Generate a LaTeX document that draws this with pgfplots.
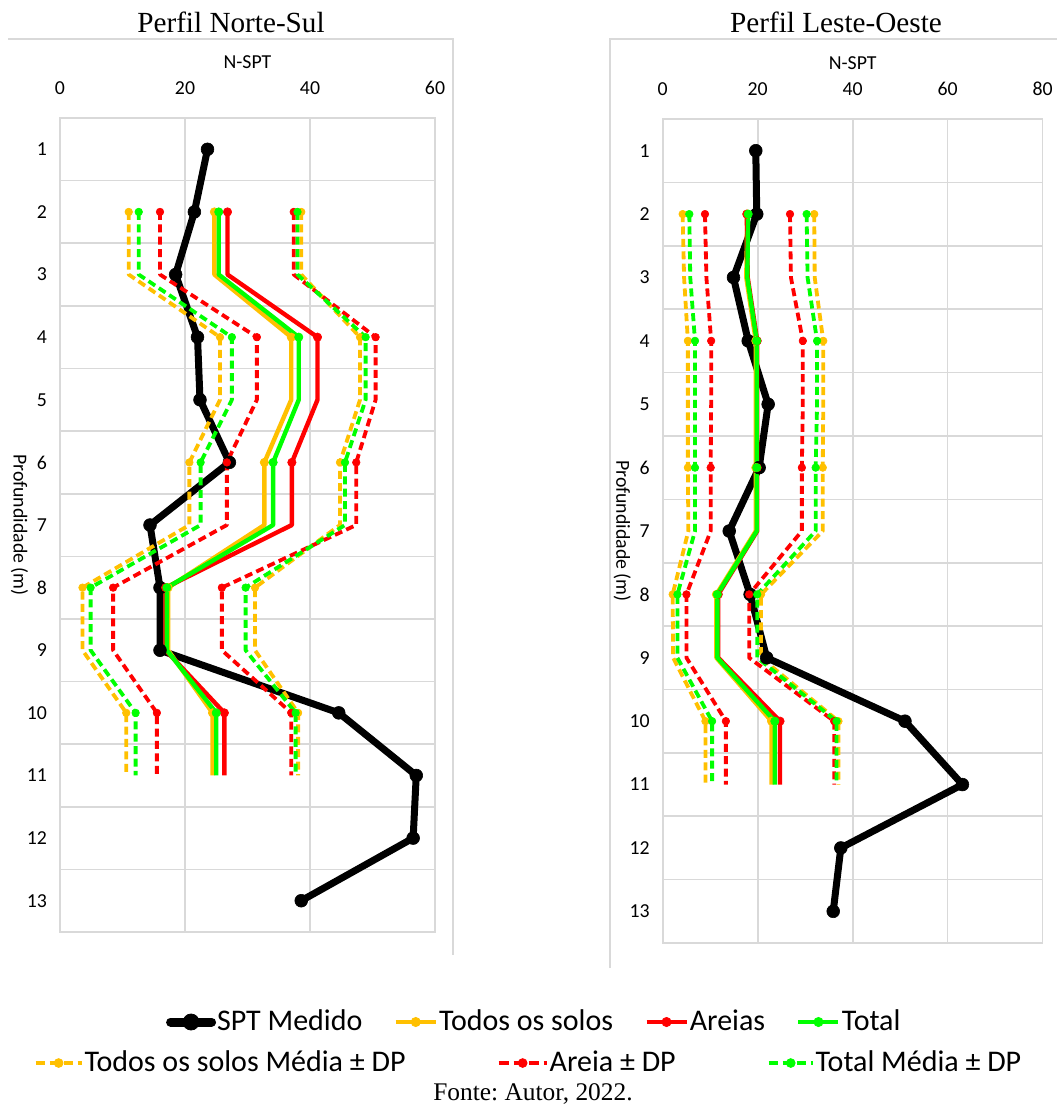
\documentclass[border=0pt]{standalone}
\usepackage{fontspec}
\setmainfont{Liberation Serif}
\newfontfamily\calibri{Carlito}
\usepackage{pgfplots}
\pgfplotsset{compat=1.18}
\frenchspacing

\definecolor{cOr}{HTML}{FFC000}
\definecolor{cRd}{HTML}{FF0000}
\definecolor{cGr}{HTML}{00FF00}
\definecolor{cGrid}{HTML}{D9D9D9}

\pgfplotsset{
  prof/.style={
    scale only axis,
    y dir=reverse,
    ymin=0.5, ymax=13.5,
    ytick={1,...,13},
    minor ytick={1.5,2.5,...,12.5},
    xmin=0,
    xticklabel pos=right,
    xmajorgrids, yminorgrids, ymajorgrids=false,
    grid style={cGrid, line width=0.8pt},
    major tick length=0pt, minor tick length=0pt,
    axis line style={cGrid, line width=0.8pt},
    tick label style={font=\calibri\fontsize{9.9}{12}\selectfont},
    /pgf/number format/assume math mode=true,
    xticklabel style={yshift=8.2pt},
    yticklabel style={xshift=-3pt},
    xlabel={N-SPT}, ylabel={Profundidade (m)},
    every axis x label/.style={at={([yshift=28pt]axis description cs:0.5,1)}, anchor=center, font=\calibri\fontsize{9.9}{12}\selectfont},
    every axis y label/.style={at={([xshift=-20.2pt]axis description cs:0,0.5)}, anchor=center, rotate=-90, font=\calibri\fontsize{9.9}{12}\selectfont},
  },
  spt/.style={black, line width=3.5pt, line join=round, mark=*, mark size=3.2pt, mark options={solid, line width=0.3pt}},
  sol/.style={#1, line width=2.2pt, line join=round, mark=*, mark size=2.1pt, mark repeat=2, mark options={solid, line width=0.3pt}},
  dsh/.style={#1, line width=1.9pt, line join=round, dash pattern=on 4pt off 2.2pt, mark=*, mark size=1.9pt, mark repeat=2, mark options={solid, line width=0.3pt}},
}

\begin{document}
\begin{tikzpicture}
\path[use as bounding box] (0pt,0pt) rectangle (528.5pt,-554pt);

% chart area borders
\draw[cGrid, line width=0.6pt] (4pt,-19.5pt) -- (226.5pt,-19.5pt) -- (226.5pt,-477.5pt);
\draw[cGrid, line width=0.6pt] (305pt,-484pt) -- (305pt,-19.5pt) -- (528.5pt,-19.5pt);

% titles
\node[font=\fontsize{14.6}{17}\selectfont] at (115.5pt,-11pt) {Perfil Norte-Sul};
\node[font=\fontsize{14.6}{17}\selectfont] at (418pt,-11pt) {Perfil Leste-Oeste};

% ---------------- Left panel ----------------
\begin{axis}[prof, at={(30pt,-59pt)}, anchor=north west, width=187.5pt, height=407pt,
  xmax=60, xtick={0,20,40,60}]
\addplot[spt] coordinates {(23.6,1)(21.5,2)(18.5,3)(22.0,4)(22.4,5)(27.1,6)(14.4,7)(16.0,8)(16.0,9)(44.6,10)(57.0,11)(56.5,12)(38.6,13)};
\addplot[sol=cOr] coordinates {(24.7,2)(24.7,3)(37.0,4)(37.0,5)(32.7,6)(32.7,7)(17.3,8)(17.3,9)(24.4,10)(24.4,11)};
\addplot[sol=cRd] coordinates {(26.8,2)(26.8,3)(41.2,4)(41.2,5)(37.1,6)(37.1,7)(16.9,8)(16.9,9)(26.3,10)(26.3,11)};
\addplot[sol=cGr] coordinates {(25.4,2)(25.4,3)(38.2,4)(38.2,5)(34.1,6)(34.1,7)(17.1,8)(17.1,9)(25.0,10)(25.0,11)};
\addplot[dsh=cOr] coordinates {(11.0,2)(11.0,3)(25.6,4)(25.6,5)(20.7,6)(20.7,7)(3.6,8)(3.6,9)(10.6,10)(10.6,11)};
\addplot[dsh=cOr] coordinates {(38.6,2)(38.6,3)(48.0,4)(48.0,5)(44.8,6)(44.8,7)(31.2,8)(31.2,9)(38.1,10)(38.1,11)};
\addplot[dsh=cRd] coordinates {(16.0,2)(16.0,3)(31.5,4)(31.5,5)(26.7,6)(26.7,7)(8.5,8)(8.5,9)(15.5,10)(15.5,11)};
\addplot[dsh=cRd] coordinates {(37.4,2)(37.4,3)(50.5,4)(50.5,5)(47.4,6)(47.4,7)(25.9,8)(25.9,9)(37.0,10)(37.0,11)};
\addplot[dsh=cGr] coordinates {(12.6,2)(12.6,3)(27.5,4)(27.5,5)(22.5,6)(22.5,7)(4.9,8)(4.9,9)(12.1,10)(12.1,11)};
\addplot[dsh=cGr] coordinates {(38.0,2)(38.0,3)(48.9,4)(48.9,5)(45.6,6)(45.6,7)(29.7,8)(29.7,9)(37.7,10)(37.7,11)};
\end{axis}

% ---------------- Right panel ----------------
\begin{axis}[prof, at={(331.35pt,-59.5pt)}, anchor=north west, width=190pt, height=412pt,
  xmax=80, xtick={0,20,40,60,80}]
\addplot[spt] coordinates {(19.6,1)(19.8,2)(14.9,3)(18.0,4)(22.2,5)(20.3,6)(14.0,7)(18.4,8)(21.9,9)(51.0,10)(63.1,11)(37.5,12)(35.9,13)};
\addplot[sol=cOr] coordinates {(17.8,2)(17.6,3)(19.6,4)(19.6,5)(19.6,6)(19.6,7)(11.3,8)(11.3,9)(22.9,10)(22.9,11)};
\addplot[sol=cRd] coordinates {(17.7,2)(17.9,3)(19.9,4)(19.9,5)(19.9,6)(19.9,7)(11.7,8)(11.7,9)(24.7,10)(24.7,11)};
\addplot[sol=cGr] coordinates {(18.0,2)(17.8,3)(19.8,4)(19.8,5)(19.8,6)(19.8,7)(11.5,8)(11.5,9)(23.6,10)(23.6,11)};
\addplot[dsh=cOr] coordinates {(4.2,2)(4.5,3)(5.3,4)(5.3,5)(5.3,6)(5.4,7)(2.1,8)(2.2,9)(9.0,10)(9.0,11)};
\addplot[dsh=cOr] coordinates {(31.9,2)(32.0,3)(33.8,4)(33.8,5)(33.7,6)(33.7,7)(20.7,8)(20.7,9)(37.0,10)(37.0,11)};
\addplot[dsh=cRd] coordinates {(8.9,2)(9.2,3)(10.2,4)(10.2,5)(10.1,6)(10.1,7)(5.0,8)(5.0,9)(13.3,10)(13.3,11)};
\addplot[dsh=cRd] coordinates {(26.8,2)(27.0,3)(29.5,4)(29.5,5)(29.3,6)(29.3,7)(18.2,8)(18.2,9)(36.1,10)(36.1,11)};
\addplot[dsh=cGr] coordinates {(5.6,2)(5.8,3)(6.8,4)(6.8,5)(6.8,6)(6.8,7)(3.1,8)(3.1,9)(10.4,10)(10.4,11)};
\addplot[dsh=cGr] coordinates {(30.3,2)(30.5,3)(32.5,4)(32.5,5)(32.2,6)(32.2,7)(19.9,8)(19.9,9)(36.6,10)(36.6,11)};
\end{axis}

% ---------------- Legend row 1 ----------------
\begin{axis}[at={(0pt,0pt)}, anchor=north west, scale only axis, width=528.5pt, height=554pt,
  hide axis, xmin=0, xmax=1, ymin=0, ymax=1,
  legend columns=4,
  legend style={at={(0.505,0.0776)}, anchor=center, draw=none, fill=none,
    font=\calibri\fontsize{15}{18}\selectfont, inner sep=0pt, nodes={inner sep=0.5pt},
    /tikz/every even column/.append style={column sep=15pt}}]
\addlegendimage{legend image code/.code={\draw[black,line width=4.5pt,line cap=round] (1.5pt,0pt)--(22pt,0pt); \fill[black] (11.75pt,0pt) circle (4pt);}}
\addlegendentry{SPT Medido}
\addlegendimage{legend image code/.code={\draw[cOr,line width=2.3pt] (0pt,0pt)--(20pt,0pt); \fill[cOr] (10pt,0pt) circle (2.3pt);}}
\addlegendentry{Todos os solos}
\addlegendimage{legend image code/.code={\draw[cRd,line width=2.3pt] (0pt,0pt)--(20pt,0pt); \fill[cRd] (10pt,0pt) circle (2.3pt);}}
\addlegendentry{Areias}
\addlegendimage{legend image code/.code={\draw[cGr,line width=2.3pt] (0pt,0pt)--(20pt,0pt); \fill[cGr] (10pt,0pt) circle (2.3pt);}}
\addlegendentry{Total}
\end{axis}

% ---------------- Legend row 2 ----------------
\begin{axis}[at={(0pt,0pt)}, anchor=north west, scale only axis, width=528.5pt, height=554pt,
  hide axis, xmin=0, xmax=1, ymin=0, ymax=1,
  legend columns=3,
  legend style={at={(0.4995,0.0406)}, anchor=center, draw=none, fill=none,
    font=\calibri\fontsize{15}{18}\selectfont, inner sep=0pt, nodes={inner sep=0.5pt},
    /tikz/every even column/.append style={column sep=45pt}}]
\addlegendimage{legend image code/.code={\draw[cOr,line width=2pt,dash pattern=on 4.5pt off 2.5pt] (0pt,0pt)--(23pt,0pt); \fill[cOr] (11.5pt,0pt) circle (2.2pt);}}
\addlegendentry{Todos os solos Média ± DP}
\addlegendimage{legend image code/.code={\draw[cRd,line width=2pt,dash pattern=on 5pt off 2.5pt] (0pt,0pt)--(24pt,0pt); \fill[cRd] (12pt,0pt) circle (2.2pt);}}
\addlegendentry{Areia ± DP}
\addlegendimage{legend image code/.code={\draw[cGr,line width=2pt,dash pattern=on 4.5pt off 2.5pt] (0pt,0pt)--(22pt,0pt); \fill[cGr] (11pt,0pt) circle (2.2pt);}}
\addlegendentry{Total Média ± DP}
\end{axis}

\node[font=\fontsize{12.7}{15}\selectfont] at (266.5pt,-547pt) {Fonte: Autor, 2022.};
\end{tikzpicture}
\end{document}
